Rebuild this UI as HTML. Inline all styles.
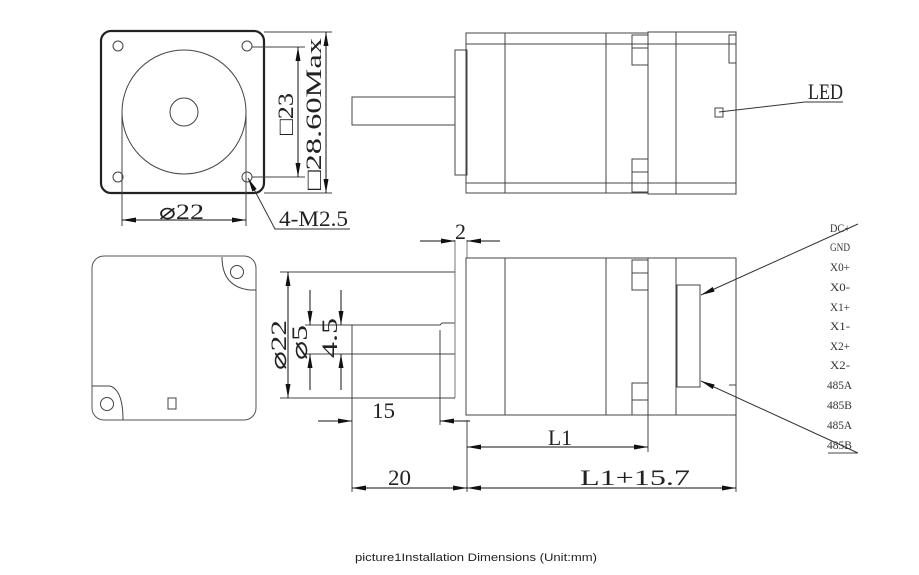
<!DOCTYPE html>
<html><head><meta charset="utf-8"><style>
html,body{margin:0;padding:0;background:#fff;width:919px;height:575px;overflow:hidden}
svg{display:block}
.t{font-family:"Liberation Serif",serif;fill:#222;font-size:22px}
.p{font-family:"Liberation Serif",serif;font-size:12px;fill:#333}
</style></head><body>
<svg width="919" height="575" viewBox="0 0 919 575" xmlns="http://www.w3.org/2000/svg">
<defs>
<marker id="a" viewBox="0 0 14 5" refX="14" refY="2.5" markerWidth="14" markerHeight="5" orient="auto-start-reverse" markerUnits="userSpaceOnUse"><path d="M0,0L14,2.5L0,5z" fill="#111"/></marker>
</defs>
<g fill="none" stroke="#444" stroke-width="1">
<rect x="101" y="31" width="163" height="162" rx="10" stroke="#222" stroke-width="2.2"/>
<circle cx="118" cy="46" r="5"/><circle cx="247" cy="46" r="5"/>
<circle cx="118" cy="177" r="5"/><circle cx="247" cy="177" r="5"/>
<circle cx="184" cy="112" r="62"/>
<circle cx="184" cy="112" r="14"/>
<line x1="122" y1="112" x2="122" y2="226"/><line x1="246" y1="112" x2="246" y2="226"/>
<line x1="122" y1="220" x2="246" y2="220" marker-start="url(#a)" marker-end="url(#a)" stroke="#111"/>
<line x1="252" y1="47" x2="305" y2="47"/><line x1="252" y1="177" x2="305" y2="177"/>
<line x1="298" y1="47" x2="298" y2="177" marker-start="url(#a)" marker-end="url(#a)" stroke="#111"/>
<line x1="264" y1="32" x2="332" y2="32"/><line x1="264" y1="193" x2="332" y2="193"/>
<line x1="326" y1="32" x2="326" y2="193" marker-start="url(#a)" marker-end="url(#a)" stroke="#111"/>
<polyline points="248,178 275,229 350,229" marker-start="url(#a)" stroke="#333"/>
<rect x="352" y="97" width="103" height="28"/>
<rect x="455" y="50" width="12" height="125"/>
<rect x="466" y="33" width="182" height="160"/>
<line x1="466" y1="44" x2="648" y2="44"/><line x1="466" y1="183" x2="648" y2="183"/>
<line x1="505" y1="33" x2="505" y2="193"/><line x1="606" y1="33" x2="606" y2="193"/>
<rect x="632" y="35" width="16" height="30"/><line x1="632" y1="48" x2="648" y2="48"/>
<rect x="632" y="159" width="16" height="33"/><line x1="632" y1="172" x2="648" y2="172"/>
<rect x="648" y="32" width="88" height="162"/>
<line x1="676" y1="32" x2="676" y2="194"/>
<line x1="648" y1="44" x2="736" y2="44"/><line x1="648" y1="183" x2="736" y2="183"/>
<rect x="729" y="35" width="7" height="28"/>
<rect x="715" y="108" width="8" height="9"/>
<polyline points="719,112 805,102 843,102" stroke="#333"/>
<rect x="92" y="256" width="164" height="164" rx="12" stroke="#555"/>
<path d="M222,257 Q222,287 250,290 L256,290" />
<circle cx="237" cy="272" r="6.5"/>
<path d="M92,386 L110,386 Q123,390 123,420"/>
<circle cx="107" cy="404" r="6.5"/>
<rect x="168" y="398" width="8" height="11"/>
<path d="M352,325 L440,325 L442,323 L455,323 M352,354 L455,354 M352,325 L352,354"/>
<path d="M455,240 L455,398 M467,240 L467,258" stroke="#777"/>
<rect x="466" y="258" width="182" height="157"/>
<line x1="505" y1="258" x2="505" y2="415"/><line x1="606" y1="258" x2="606" y2="415"/>
<rect x="632" y="260" width="16" height="30"/><line x1="632" y1="273" x2="648" y2="273"/>
<rect x="632" y="383" width="16" height="32"/><line x1="632" y1="400" x2="648" y2="400"/>
<rect x="648" y="258" width="88" height="157"/>
<line x1="676" y1="258" x2="676" y2="415"/>
<rect x="677" y="285" width="23" height="102"/>
<line x1="729" y1="385" x2="736" y2="385"/>
<line x1="420" y1="241" x2="455" y2="241" marker-end="url(#a)" stroke="#111"/>
<line x1="500" y1="241" x2="467" y2="241" marker-end="url(#a)" stroke="#111"/>
<line x1="280" y1="272" x2="455" y2="272"/><line x1="280" y1="398" x2="455" y2="398"/>
<line x1="288" y1="272" x2="288" y2="398" marker-start="url(#a)" marker-end="url(#a)" stroke="#111"/>
<line x1="305" y1="325" x2="352" y2="325"/><line x1="305" y1="354" x2="352" y2="354"/>
<line x1="310" y1="290" x2="310" y2="325" marker-end="url(#a)" stroke="#111"/>
<line x1="310" y1="390" x2="310" y2="354" marker-end="url(#a)" stroke="#111"/>
<line x1="341" y1="290" x2="341" y2="325" marker-end="url(#a)" stroke="#111"/>
<line x1="341" y1="390" x2="341" y2="354" marker-end="url(#a)" stroke="#111"/>
<line x1="352" y1="354" x2="352" y2="492"/>
<line x1="440" y1="330" x2="440" y2="425"/>
<line x1="318" y1="421" x2="352" y2="421" marker-end="url(#a)" stroke="#111"/>
<line x1="470" y1="421" x2="440" y2="421" marker-end="url(#a)" stroke="#111"/>
<line x1="467" y1="420" x2="467" y2="492"/>
<line x1="648" y1="415" x2="648" y2="452"/><line x1="736" y1="415" x2="736" y2="492"/>
<line x1="467" y1="447" x2="648" y2="447" marker-start="url(#a)" marker-end="url(#a)" stroke="#111"/>
<line x1="352" y1="488" x2="467" y2="488" marker-start="url(#a)" marker-end="url(#a)" stroke="#111"/>
<line x1="467" y1="488" x2="736" y2="488" marker-start="url(#a)" marker-end="url(#a)" stroke="#111"/>
<line x1="858" y1="224" x2="701" y2="295" marker-end="url(#a)" stroke="#333"/>
<line x1="858" y1="453" x2="701" y2="381" marker-end="url(#a)" stroke="#333"/>
<line x1="828" y1="453" x2="858" y2="453"/>
</g>
<g class="t">
<text x="159" y="219" textLength="45" lengthAdjust="spacingAndGlyphs">⌀22</text>
<text x="279" y="226" textLength="69" lengthAdjust="spacingAndGlyphs">4-M2.5</text>
<text x="808" y="99" textLength="35" lengthAdjust="spacingAndGlyphs">LED</text>
<text transform="translate(293,135) rotate(-90)" textLength="42" lengthAdjust="spacingAndGlyphs">□23</text>
<text transform="translate(321,190) rotate(-90)" textLength="152" lengthAdjust="spacingAndGlyphs">□28.60Max</text>
<text x="455" y="239" textLength="11" lengthAdjust="spacingAndGlyphs">2</text>
<text transform="translate(286,370) rotate(-90)" textLength="50" lengthAdjust="spacingAndGlyphs">⌀22</text>
<text transform="translate(307,360) rotate(-90)" textLength="35" lengthAdjust="spacingAndGlyphs">⌀5</text>
<text transform="translate(337,358) rotate(-90)" textLength="40" lengthAdjust="spacingAndGlyphs">4.5</text>
<text x="372" y="418" textLength="23" lengthAdjust="spacingAndGlyphs">15</text>
<text x="548" y="445" textLength="24" lengthAdjust="spacingAndGlyphs">L1</text>
<text x="388" y="485" textLength="23" lengthAdjust="spacingAndGlyphs">20</text>
<text x="580" y="485" textLength="110" lengthAdjust="spacingAndGlyphs">L1+15.7</text>
</g>
<g class="p">
<text x="830" y="232" textLength="20" lengthAdjust="spacingAndGlyphs">DC+</text>
<text x="830" y="251" textLength="20" lengthAdjust="spacingAndGlyphs">GND</text>
<text x="830" y="271" textLength="20" lengthAdjust="spacingAndGlyphs">X0+</text>
<text x="830" y="291" textLength="20" lengthAdjust="spacingAndGlyphs">X0-</text>
<text x="830" y="311" textLength="20" lengthAdjust="spacingAndGlyphs">X1+</text>
<text x="830" y="330" textLength="20" lengthAdjust="spacingAndGlyphs">X1-</text>
<text x="830" y="350" textLength="20" lengthAdjust="spacingAndGlyphs">X2+</text>
<text x="830" y="369" textLength="20" lengthAdjust="spacingAndGlyphs">X2-</text>
<text x="827" y="389" textLength="25" lengthAdjust="spacingAndGlyphs">485A</text>
<text x="827" y="409" textLength="25" lengthAdjust="spacingAndGlyphs">485B</text>
<text x="827" y="429" textLength="25" lengthAdjust="spacingAndGlyphs">485A</text>
<text x="827" y="449" textLength="25" lengthAdjust="spacingAndGlyphs">485B</text>
</g>
<text x="355" y="561" font-family="'Liberation Sans',sans-serif" font-size="11" fill="#222" textLength="242" lengthAdjust="spacingAndGlyphs">picture1Installation Dimensions (Unit:mm)</text>
</svg>
</body></html>
